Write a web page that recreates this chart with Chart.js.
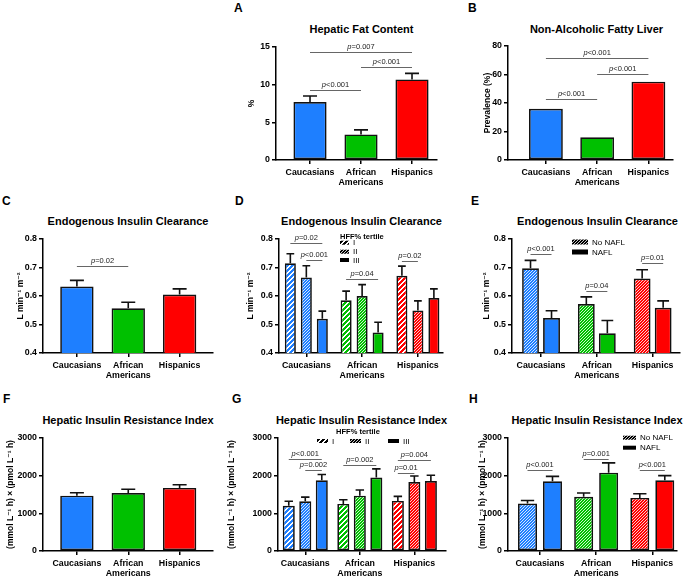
<!DOCTYPE html>
<html lang="en">
<head>
<meta charset="UTF-8" />
<title>Hepatic fat, insulin clearance and hepatic insulin resistance</title>
<script src="https://cdn.jsdelivr.net/npm/chart.js"></script>
<style>
  body { margin:0; background:#fff; width:685px; height:577px; overflow:hidden; position:relative;
         font-family:"Liberation Sans", Arial, "DejaVu Sans", sans-serif; color:#000; }
  .letter { position:absolute; font-weight:bold; font-size:12px; line-height:12px; }
  .ttl { position:absolute; font-weight:bold; font-size:11px; line-height:11px; white-space:nowrap; transform:translateX(-50%); }
  canvas { position:absolute; }
</style>
</head>
<body>
<div class="letter" style="left:234px;top:2.4px">A</div>
<div class="letter" style="left:468px;top:2.4px">B</div>
<div class="letter" style="left:2px;top:195.4px">C</div>
<div class="letter" style="left:235px;top:195.4px">D</div>
<div class="letter" style="left:471px;top:195.4px">E</div>
<div class="letter" style="left:3px;top:393.4px">F</div>
<div class="letter" style="left:232px;top:393.4px">G</div>
<div class="letter" style="left:469px;top:393.4px">H</div>

<div class="ttl" style="left:361.5px;top:23.7px">Hepatic Fat Content</div>
<div class="ttl" style="left:596.5px;top:23.7px">Non-Alcoholic Fatty Liver</div>
<div class="ttl" style="left:128px;top:215.7px">Endogenous Insulin Clearance</div>
<div class="ttl" style="left:361.5px;top:215.7px">Endogenous Insulin Clearance</div>
<div class="ttl" style="left:597.5px;top:215.7px">Endogenous Insulin Clearance</div>
<div class="ttl" style="left:128px;top:414.7px">Hepatic Insulin Resistance Index</div>
<div class="ttl" style="left:361.5px;top:414.7px">Hepatic Insulin Resistance Index</div>
<div class="ttl" style="left:597px;top:414.7px">Hepatic Insulin Resistance Index</div>

<script>
  const groups = ['Caucasians', ['African', 'Americans'], 'Hispanics'];
  const tertiles = ['I', 'II', 'III'];
  const naflGroups = ['No NAFL', 'NAFL'];
  const groupColors = ['#1E7FFF', '#00C000', '#FF0000'];

  // A: hepatic fat content (%), mean and SEM
  const hffMean = [7.7, 3.4, 10.7];
  const hffSem = [0.8, 0.6, 0.8];
  const hffP = [
    { a: [0, 0], b: [0, 1], y: 9.3, t: '<0.001' },
    { a: [0, 0], b: [0, 2], y: 14.3, t: '=0.007' },
    { a: [0, 1], b: [0, 2], y: 12.4, t: '<0.001' }
  ];

  // B: NAFL prevalence (%)
  const naflPrev = [36, 16, 55];
  const naflP = [
    { a: [0, 0], b: [0, 1], y: 42.8, t: '<0.001' },
    { a: [0, 0], b: [0, 2], y: 71.4, t: '<0.001' },
    { a: [0, 1], b: [0, 2], y: 60.4, t: '<0.001' }
  ];

  // C: endogenous insulin clearance
  const eicMean = [0.633, 0.557, 0.605];
  const eicSem = [0.022, 0.021, 0.020];
  const eicP = [{ a: [0, 0], b: [0, 1], y: 0.705, t: '=0.02' }];

  // D: clearance by HFF% tertile
  const eicT1 = [0.715, 0.585, 0.671];
  const eicT1Sem = [0.033, 0.032, 0.034];
  const eicT2 = [0.665, 0.600, 0.549];
  const eicT2Sem = [0.041, 0.040, 0.034];
  const eicT3 = [0.520, 0.472, 0.593];
  const eicT3Sem = [0.027, 0.036, 0.032];
  const eicTertP = [
    { a: [0, 0], b: [2, 0], y: 0.785, t: '=0.02' },
    { a: [1, 0], b: [2, 0], y: 0.726, t: '<0.001' },
    { a: [0, 1], b: [2, 1], y: 0.658, t: '=0.04' },
    { a: [0, 2], b: [1, 2], y: 0.724, t: '=0.02' }
  ];

  // E: clearance by NAFL
  const eicNo = [0.697, 0.572, 0.661];
  const eicNoSem = [0.028, 0.025, 0.031];
  const eicYes = [0.523, 0.469, 0.559];
  const eicYesSem = [0.025, 0.045, 0.024];
  const eicNaflP = [
    { a: [0, 0], b: [1, 0], y: 0.746, t: '<0.001' },
    { a: [0, 1], b: [1, 1], y: 0.619, t: '=0.04' },
    { a: [0, 2], b: [1, 2], y: 0.717, t: '=0.01' }
  ];

  // F: hepatic insulin resistance index
  const hirMean = [1470, 1540, 1675];
  const hirSem = [75, 100, 85];

  // G: HIR by HFF% tertile
  const hirT1 = [1200, 1250, 1330];
  const hirT1Sem = [120, 110, 120];
  const hirT2 = [1320, 1470, 1830];
  const hirT2Sem = [110, 150, 160];
  const hirT3 = [1880, 1950, 1860];
  const hirT3Sem = [150, 230, 150];
  const hirTertP = [
    { a: [0, 0], b: [2, 0], y: 2453, t: '<0.001' },
    { a: [1, 0], b: [2, 0], y: 2144, t: '=0.002' },
    { a: [0, 1], b: [2, 1], y: 2294, t: '=0.002' },
    { a: [0, 2], b: [2, 2], y: 2409, t: '=0.004' },
    { a: [0, 2], b: [1, 2], y: 2074, t: '=0.01' }
  ];

  // H: HIR by NAFL
  const hirNo = [1260, 1440, 1410];
  const hirNoSem = [80, 100, 110];
  const hirYes = [1850, 2080, 1880];
  const hirYesSem = [130, 260, 120];
  const hirNaflP = [
    { a: [0, 0], b: [1, 0], y: 2144, t: '<0.001' },
    { a: [0, 1], b: [1, 1], y: 2453, t: '=0.001' },
    { a: [0, 2], b: [1, 2], y: 2162, t: '<0.001' }
  ];

  const FONT = '"Liberation Sans", Arial, "DejaVu Sans", sans-serif';
  Chart.defaults.font.family = FONT;
  Chart.defaults.color = '#000';

  // diagonal hatch fills like the prism ones
  function hatch(color, kind) {
    if (kind === 'solid') return color;
    const n = kind === 'wide' ? 5 : 3;
    const c = document.createElement('canvas');
    c.width = c.height = n;
    const g = c.getContext('2d');
    g.fillStyle = color;
    g.fillRect(0, 0, n, n);
    g.fillStyle = kind === 'wide' ? '#fff' : 'rgba(255,255,255,0.8)';
    for (let x = 0; x < n; x++) {
      for (let y = 0; y < n; y++) {
        const k = (x + y) % n;
        if (k === 0 || (kind === 'wide' && k === 1)) g.fillRect(x, y, 1, 1);
      }
    }
    return g.createPattern(c, 'repeat');
  }
  const fills = kind => groupColors.map(c => hatch(c, kind));

  const errorBars = {
    id: 'errorBars',
    afterDatasetsDraw(chart) {
      const ctx = chart.ctx, ys = chart.scales.y;
      ctx.save();
      ctx.strokeStyle = '#111';
      ctx.lineWidth = 1.6;
      chart.data.datasets.forEach((ds, i) => {
        if (!ds.sem) return;
        chart.getDatasetMeta(i).data.forEach((bar, j) => {
          const top = ys.getPixelForValue(ds.data[j].y + ds.sem[j]);
          const w = Math.min(bar.width * 0.35, 7);
          ctx.beginPath();
          ctx.moveTo(bar.x, bar.y);
          ctx.lineTo(bar.x, top);
          ctx.moveTo(bar.x - w, top);
          ctx.lineTo(bar.x + w, top);
          ctx.stroke();
        });
      });
      ctx.restore();
    }
  };

  function bracketPlugin(list) {
    return {
      id: 'brackets',
      afterDatasetsDraw(chart) {
        const ctx = chart.ctx, ys = chart.scales.y;
        ctx.save();
        list.forEach(b => {
          const x1 = chart.getDatasetMeta(b.a[0]).data[b.a[1]].x;
          const x2 = chart.getDatasetMeta(b.b[0]).data[b.b[1]].x;
          const yy = Math.round(ys.getPixelForValue(b.y)) + 0.5;
          ctx.strokeStyle = '#666';
          ctx.lineWidth = 1;
          ctx.beginPath();
          ctx.moveTo(x1, yy);
          ctx.lineTo(x2, yy);
          ctx.stroke();
          const it = 'italic 7.5px ' + FONT, rg = '7.5px ' + FONT;
          ctx.font = it;
          const wp = ctx.measureText('p').width;
          ctx.font = rg;
          const wr = ctx.measureText(b.t).width;
          const x0 = (x1 + x2) / 2 - (wp + wr) / 2;
          ctx.fillStyle = '#222';
          ctx.textAlign = 'left';
          ctx.textBaseline = 'alphabetic';
          ctx.font = it;
          ctx.fillText('p', x0, yy - 4);
          ctx.font = rg;
          ctx.fillText(b.t, x0 + wp, yy - 4);
        });
        ctx.restore();
      }
    };
  }

  // small key drawn inside the plot, offsets from the chart area corner
  function keyPlugin(key) {
    return {
      id: 'key',
      afterDraw(chart) {
        if (!key) return;
        const ctx = chart.ctx, a = chart.chartArea;
        ctx.save();
        ctx.fillStyle = '#000';
        ctx.textBaseline = 'middle';
        if (key.title) {
          ctx.font = 'bold 7.5px ' + FONT;
          ctx.textAlign = key.title.align;
          ctx.fillText(key.title.text, a.left + key.title.dx, a.top + key.title.dy);
        }
        ctx.font = '8px ' + FONT;
        ctx.textAlign = 'left';
        key.items.forEach(it => {
          const x = a.left + it.dx, y = a.top + it.dy;
          ctx.fillStyle = it.fill;
          ctx.fillRect(x, y - key.h / 2, key.w, key.h);
          ctx.fillStyle = '#000';
          ctx.fillText(it.label, x + key.w + 4, y + 0.5);
        });
        ctx.restore();
      }
    };
  }

  function panel(opt) {
    const a = opt.area, yW = opt.titleGap + 8;
    const cv = document.createElement('canvas');
    const l = a.L - yW - 2, t = a.T - 16;
    cv.width = a.R + 8 - l;
    cv.height = a.B + 30 - t;
    cv.style.left = l + 'px';
    cv.style.top = t + 'px';
    document.body.appendChild(cv);
    const axisLine = { color: '#000', width: 1.5 };
    const tickMarks = { drawOnChartArea: false, drawTicks: true, tickLength: 4, color: '#000', lineWidth: 1.5, offset: false };
    new Chart(cv, {
      type: 'bar',
      data: {
        datasets: opt.series.map(s => ({
          data: s.values.map((v, i) => ({ x: i, y: v })),
          sem: s.sem,
          backgroundColor: s.fill,
          borderColor: '#111',
          borderWidth: 1.7,
          borderSkipped: false,
          categoryPercentage: opt.catPct,
          barPercentage: opt.barPct
        }))
      },
      options: {
        responsive: false,
        animation: false,
        events: [],
        layout: { padding: { left: 2, top: 16, right: 8, bottom: 0 } },
        plugins: { legend: { display: false }, tooltip: { enabled: false } },
        scales: {
          x: {
            type: 'linear', min: opt.xMin, max: opt.xMax, offset: false,
            afterBuildTicks: s => { s.ticks = groups.map((g, i) => ({ value: i })); },
            afterFit: s => { s.height = 30; s.paddingLeft = 0; s.paddingRight = 0; },
            ticks: {
              callback: v => groups[v], autoSkip: false, maxRotation: 0, padding: 4,
              font: { size: 8.8, weight: 'bold', lineHeight: 1.1 }, color: '#000'
            },
            grid: tickMarks, border: axisLine
          },
          y: {
            min: opt.yMin, max: opt.yMax,
            afterFit: s => { s.width = yW; s.paddingTop = 0; s.paddingBottom = 0; },
            ticks: {
              stepSize: opt.yStep, padding: 2,
              callback: v => opt.yDec ? v.toFixed(1) : v,
              font: { size: 8.8, weight: 'bold' }, color: '#000'
            },
            title: {
              display: true, text: opt.yTitle, color: '#000',
              font: { size: 8.5, weight: 'bold' },
              padding: { top: yW - opt.titleGap - 5.1, bottom: 0 }
            },
            grid: tickMarks, border: axisLine
          }
        }
      },
      plugins: [errorBars, bracketPlugin(opt.brackets || []), keyPlugin(opt.key)]
    });
  }

  const pctTitle = '%';
  const clrTitle = 'L min\u207B\u00B9 m\u207B\u00B2';
  const hirTitle = '(mmol L\u207B\u00B9 h) \u00D7 (pmol L\u207B\u00B9 h)';

  // A
  panel({
    area: { L: 276, T: 47, R: 437, B: 160 }, xMin: -0.667, xMax: 2.49,
    yMin: 0, yMax: 15, yStep: 5, yTitle: pctTitle, titleGap: 24,
    catPct: 1, barPct: 0.65,
    series: [{ values: hffMean, sem: hffSem, fill: fills('solid') }],
    brackets: hffP
  });
  // B
  panel({
    area: { L: 508, T: 46, R: 673, B: 160 }, xMin: -0.74, xMax: 2.48,
    yMin: 0, yMax: 80, yStep: 20, yTitle: 'Prevalence (%)', titleGap: 20,
    catPct: 1, barPct: 0.66,
    series: [{ values: naflPrev, fill: fills('solid') }],
    brackets: naflP
  });
  // C
  panel({
    area: { L: 43, T: 239, R: 213, B: 353 }, xMin: -0.66, xMax: 2.65,
    yMin: 0.4, yMax: 0.8, yStep: 0.1, yDec: true, yTitle: clrTitle, titleGap: 22,
    catPct: 1, barPct: 0.65,
    series: [{ values: eicMean, sem: eicSem, fill: fills('solid') }],
    brackets: eicP
  });
  // D
  panel({
    area: { L: 279, T: 239, R: 443, B: 353 }, xMin: -0.49, xMax: 2.45,
    yMin: 0.4, yMax: 0.8, yStep: 0.1, yDec: true, yTitle: clrTitle, titleGap: 28,
    catPct: 0.86, barPct: 0.69,
    series: [
      { values: eicT1, sem: eicT1Sem, fill: fills('wide') },
      { values: eicT2, sem: eicT2Sem, fill: fills('fine') },
      { values: eicT3, sem: eicT3Sem, fill: fills('solid') }
    ],
    brackets: eicTertP,
    key: {
      w: 9, h: 4,
      title: { text: 'HFF% tertile', dx: 61, dy: -2, align: 'left' },
      items: [
        { label: tertiles[0], fill: hatch('#000', 'wide'), dx: 61, dy: 3.7 },
        { label: tertiles[1], fill: hatch('#000', 'fine'), dx: 61, dy: 12.7 },
        { label: tertiles[2], fill: '#000', dx: 61, dy: 21 }
      ]
    }
  });
  // E
  panel({
    area: { L: 512, T: 239, R: 680, B: 353 }, xMin: -0.52, xMax: 2.49,
    yMin: 0.4, yMax: 0.8, yStep: 0.1, yDec: true, yTitle: clrTitle, titleGap: 25,
    catPct: 0.753, barPct: 0.8,
    series: [
      { values: eicNo, sem: eicNoSem, fill: fills('fine') },
      { values: eicYes, sem: eicYesSem, fill: fills('solid') }
    ],
    brackets: eicNaflP,
    key: {
      w: 16, h: 5,
      items: [
        { label: naflGroups[0], fill: hatch('#000', 'fine'), dx: 60, dy: 3 },
        { label: naflGroups[1], fill: '#000', dx: 60, dy: 13 }
      ]
    }
  });
  // F
  panel({
    area: { L: 43, T: 438, R: 213, B: 551 }, xMin: -0.66, xMax: 2.65,
    yMin: 0, yMax: 3000, yStep: 1000, yTitle: hirTitle, titleGap: 32,
    catPct: 1, barPct: 0.65,
    series: [{ values: hirMean, sem: hirSem, fill: fills('solid') }]
  });
  // G
  panel({
    area: { L: 278, T: 438, R: 446, B: 551 }, xMin: -0.5, xMax: 2.58,
    yMin: 0, yMax: 3000, yStep: 1000, yTitle: hirTitle, titleGap: 46,
    catPct: 0.908, barPct: 0.73,
    series: [
      { values: hirT1, sem: hirT1Sem, fill: fills('wide') },
      { values: hirT2, sem: hirT2Sem, fill: fills('fine') },
      { values: hirT3, sem: hirT3Sem, fill: fills('solid') }
    ],
    brackets: hirTertP,
    key: {
      w: 11, h: 4,
      title: { text: 'HFF% tertile', dx: 80, dy: -6, align: 'center' },
      items: [
        { label: tertiles[0], fill: hatch('#000', 'wide'), dx: 39, dy: 3 },
        { label: tertiles[1], fill: hatch('#000', 'fine'), dx: 72, dy: 3 },
        { label: tertiles[2], fill: '#000', dx: 110, dy: 3 }
      ]
    }
  });
  // H
  panel({
    area: { L: 508, T: 438, R: 677, B: 551 }, xMin: -0.57, xMax: 2.44,
    yMin: 0, yMax: 3000, yStep: 1000, yTitle: hirTitle, titleGap: 25,
    catPct: 0.89, barPct: 0.76,
    series: [
      { values: hirNo, sem: hirNoSem, fill: fills('fine') },
      { values: hirYes, sem: hirYesSem, fill: fills('solid') }
    ],
    brackets: hirNaflP,
    key: {
      w: 13, h: 4,
      items: [
        { label: naflGroups[0], fill: hatch('#000', 'fine'), dx: 115, dy: -0.3 },
        { label: naflGroups[1], fill: '#000', dx: 115, dy: 9.7 }
      ]
    }
  });
</script>
</body>
</html>
